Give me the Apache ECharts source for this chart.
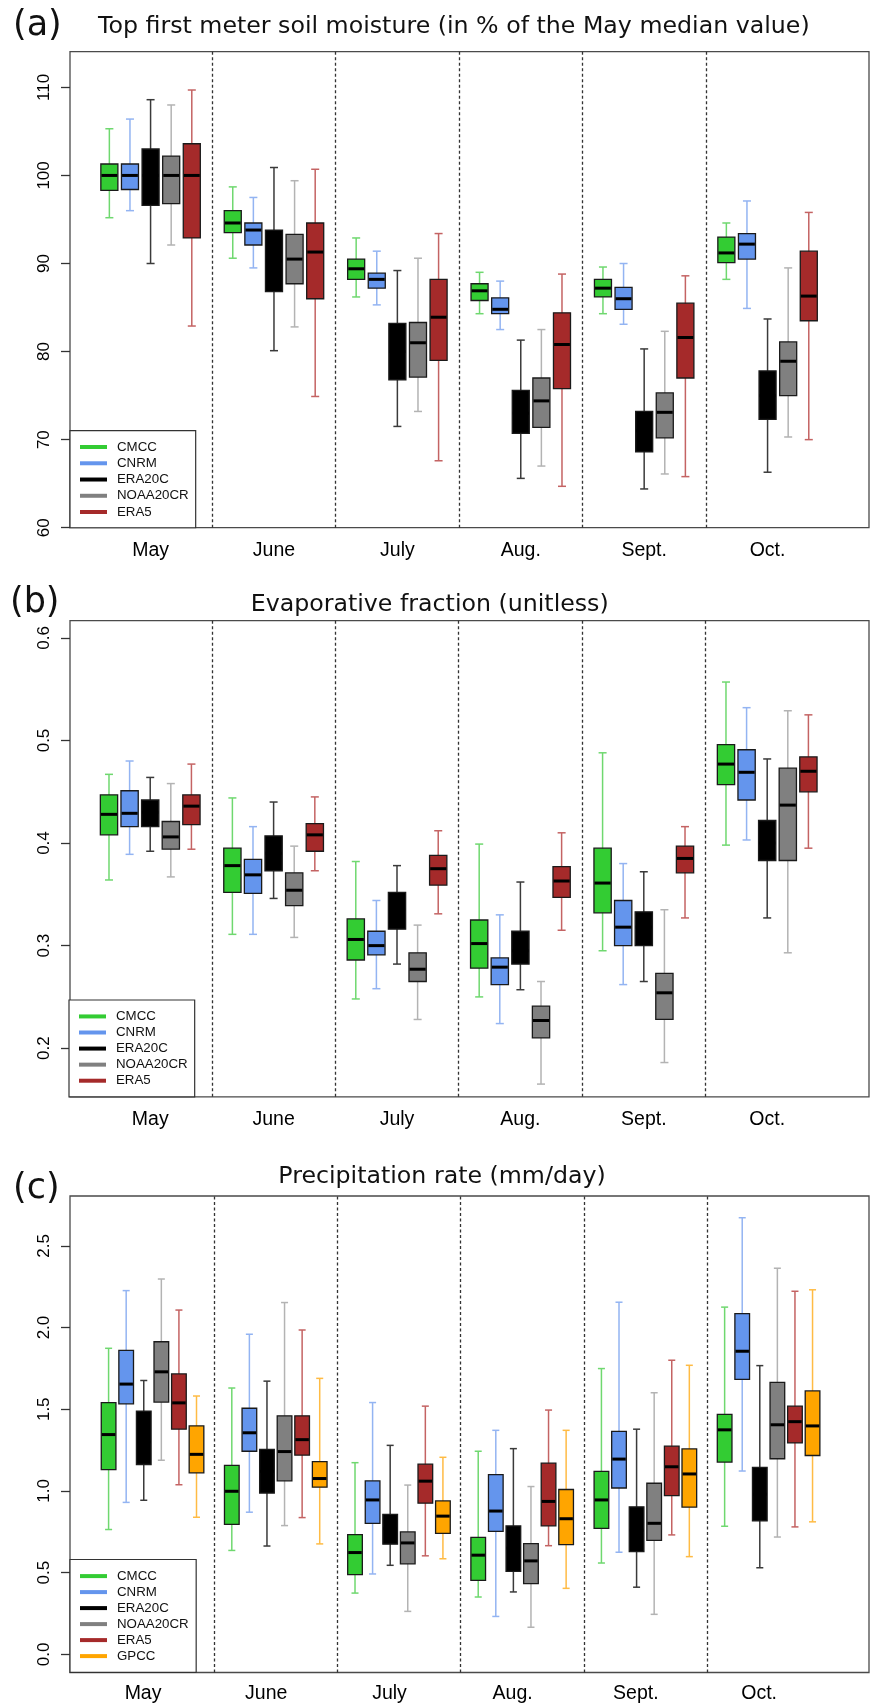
<!DOCTYPE html>
<html><head><meta charset="utf-8">
<script src="https://cdn.jsdelivr.net/npm/echarts@6/dist/echarts.min.js"></script>
<style>html,body{margin:0;padding:0;background:#fff}#c{width:872px;height:1706px}</style>
</head><body><div id="c"></div>
<script>
const months = ['May','June','July','Aug.','Sept.','Oct.'];
const modelsAB = ['CMCC','CNRM','ERA20C','NOAA20CR','ERA5'];
const modelsC = ['CMCC','CNRM','ERA20C','NOAA20CR','ERA5','GPCC'];
const ticksA = [60,70,80,90,100,110];
const ticksB = [0.2,0.3,0.4,0.5,0.6];
const ticksC = [0,0.5,1,1.5,2,2.5];

// each row: [min, Q1, median, Q3, max] for May..Oct
// (a) soil moisture, % of May median
const soilCMCC   = [[95.2,98.3,100,101.3,105.3],[90.6,93.5,94.6,96.0,98.7],[86.2,88.2,89.4,90.5,92.9],[84.3,85.8,86.9,87.7,89.0],[84.3,86.2,87.2,88.2,89.6],[88.2,90.1,91.2,93.0,94.6]];
const soilCNRM   = [[96.0,98.4,100,101.3,106.4],[89.5,92.1,93.8,94.6,97.5],[85.3,87.2,88.2,88.9,91.4],[82.5,84.3,84.8,86.1,88.0],[83.1,84.8,86.0,87.3,90.0],[84.9,90.5,92.2,93.4,97.1]];
const soilERA20C = [[90.0,96.6,100,103.0,108.6],[80.1,86.8,90.3,93.8,100.9],[71.5,76.8,80.0,83.2,89.2],[65.6,70.7,73.0,75.6,81.3],[64.4,68.6,71.0,73.2,80.3],[66.3,72.3,75.0,77.8,83.7]];
const soilNOAA   = [[92.1,96.8,100,102.2,108.0],[82.8,87.7,90.5,93.3,99.4],[73.2,77.1,81.0,83.3,90.6],[67.0,71.4,74.4,77.0,82.5],[66.1,70.2,73.1,75.3,82.3],[70.3,75.0,78.9,81.1,89.5]];
const soilERA5   = [[82.9,92.9,100,103.6,109.7],[74.9,86.0,91.3,94.6,100.7],[67.6,79.0,83.9,88.2,93.4],[64.7,75.8,80.8,84.4,88.8],[65.8,77.0,81.6,85.5,88.6],[70.0,83.5,86.3,91.4,95.8]];
// (b) evaporative fraction
const efCMCC   = [[0.364,0.408,0.428,0.447,0.467],[0.311,0.352,0.378,0.395,0.444],[0.248,0.286,0.306,0.326,0.382],[0.250,0.278,0.302,0.325,0.399],[0.295,0.332,0.361,0.395,0.488],[0.398,0.457,0.477,0.496,0.557]];
const efCNRM   = [[0.389,0.416,0.429,0.451,0.480],[0.311,0.351,0.369,0.384,0.416],[0.258,0.291,0.300,0.314,0.344],[0.224,0.262,0.279,0.288,0.330],[0.262,0.300,0.318,0.344,0.380],[0.403,0.442,0.469,0.491,0.532]];
const efERA20C = [[0.392,0.416,0.430,0.442,0.464],[0.346,0.373,0.390,0.407,0.440],[0.282,0.316,0.335,0.352,0.378],[0.257,0.282,0.295,0.314,0.362],[0.265,0.300,0.318,0.333,0.372],[0.327,0.383,0.400,0.422,0.482]];
const efNOAA   = [[0.367,0.394,0.406,0.421,0.458],[0.308,0.339,0.354,0.371,0.397],[0.228,0.265,0.277,0.293,0.320],[0.165,0.210,0.227,0.241,0.265],[0.186,0.228,0.254,0.273,0.335],[0.293,0.383,0.437,0.473,0.529]];
const efERA5   = [[0.394,0.418,0.436,0.447,0.477],[0.373,0.392,0.408,0.419,0.445],[0.331,0.359,0.375,0.388,0.412],[0.315,0.347,0.363,0.377,0.410],[0.327,0.371,0.385,0.397,0.416],[0.395,0.450,0.470,0.484,0.525]];
// (c) precipitation rate, mm/day
const prCMCC   = [[0.764,1.131,1.345,1.541,1.873],[0.636,0.795,0.998,1.157,1.630],[0.375,0.488,0.623,0.733,1.173],[0.351,0.453,0.607,0.716,1.243],[0.559,0.771,0.945,1.120,1.749],[0.784,1.177,1.374,1.469,2.125]];
const prCNRM   = [[0.930,1.533,1.654,1.860,2.226],[0.870,1.243,1.356,1.506,1.959],[0.492,0.802,0.945,1.062,1.541],[0.232,0.753,0.877,1.100,1.371],[0.625,1.018,1.195,1.365,2.155],[1.122,1.683,1.855,2.085,2.672]];
const prERA20C = [[0.943,1.162,1.300,1.489,1.676],[0.663,0.987,1.120,1.254,1.672],[0.545,0.674,0.770,0.857,1.279],[0.382,0.508,0.650,0.786,1.259],[0.411,0.629,0.760,0.903,1.378],[0.530,0.817,0.980,1.144,1.767]];
const prNOAA   = [[1.188,1.544,1.729,1.913,2.297],[0.788,1.062,1.241,1.460,2.153],[0.263,0.554,0.682,0.749,1.036],[0.166,0.433,0.572,0.678,1.027],[0.245,0.698,0.802,1.047,1.601],[0.718,1.197,1.405,1.665,2.363]];
const prERA5   = [[1.038,1.378,1.539,1.716,2.107],[0.837,1.219,1.314,1.460,1.985],[0.603,0.925,1.060,1.164,1.519],[0.665,0.786,0.936,1.170,1.495],[0.731,0.972,1.148,1.274,1.800],[0.780,1.294,1.424,1.519,2.222]];
const prGPCC   = [[0.839,1.111,1.224,1.398,1.581],[0.676,1.023,1.076,1.179,1.689],[0.585,0.740,0.846,0.939,1.206],[0.404,0.671,0.830,1.009,1.371],[0.598,0.901,1.104,1.257,1.769],[0.811,1.217,1.398,1.612,2.231]];

const titles = ['Top first meter soil moisture (in % of the May median value)','Evaporative fraction (unitless)','Precipitation rate (mm/day)'];
const panelTags = ['(a)','(b)','(c)'];

// ---- styling / layout ----
const fillCol = {CMCC:'#33cc33', CNRM:'#6495ed', ERA20C:'#000000', NOAA20CR:'#808080', ERA5:'#a52a2a', GPCC:'#ffa500'};
const whiskCol = {CMCC:'#6fd86f', CNRM:'#93b4f2', ERA20C:'#3a3a3a', NOAA20CR:'#b3b3b3', ERA5:'#c46363', GPCC:'#ffbb44'};
const AX = 'Liberation Sans, Arial, sans-serif';
const TF = 'DejaVu Sans, sans-serif';

const panels = [
  {data:{CMCC:soilCMCC,CNRM:soilCNRM,ERA20C:soilERA20C,NOAA20CR:soilNOAA,ERA5:soilERA5}, models:modelsAB, ticks:ticksA,
   top:51.7, bottom:527.7, ymin:60, ymax:114.05, xmin:-0.153, xmax:6.322, step:0.167, box:0.138, staple:0.065,
   fmt:v=>String(v), xMargin:12.5, xPad:[0,0,0,0], legTop:430.7, legLH:16.25, legPad:[8.2,7,7.6,10], legLeft:70,
   title:{x:98,y:26.4}, tag:{x:13,y:26}},
  {data:{CMCC:efCMCC,CNRM:efCNRM,ERA20C:efERA20C,NOAA20CR:efNOAA,ERA5:efERA5}, models:modelsAB, ticks:ticksB,
   top:620.7, bottom:1096.8, ymin:0.1526, ymax:0.6168, xmin:-0.15, xmax:6.325, step:0.167, box:0.14, staple:0.065,
   fmt:v=>v.toFixed(1), xMargin:13.2, xPad:[0,0,0,0], legTop:1000, legLH:16.07, legPad:[8.4,7,8.1,10], legLeft:69,
   title:{x:250.7,y:604.4}, tag:{x:10,y:603}},
  {data:{CMCC:prCMCC,CNRM:prCNRM,ERA20C:prERA20C,NOAA20CR:prNOAA,ERA5:prERA5,GPCC:prGPCC}, models:modelsC, ticks:ticksC,
   top:1196, bottom:1672.5, ymin:-0.111, ymax:2.805, xmin:-0.17, xmax:6.315, step:0.1427, box:0.119, staple:0.057,
   fmt:v=>v.toFixed(1), xMargin:11.4, xPad:[0,19,0,0], legTop:1559.5, legLH:16, legPad:[8.6,7.5,8.3,10], legLeft:70,
   title:{x:278.3,y:1177.2}, tag:{x:13,y:1188.7}}
];

function makeRenderer(fill, wcol, P) {
  return function (params, api) {
    const x = api.value(0);
    const pt = k => api.coord([x, api.value(k)]);
    const lo = pt(1), q1 = pt(2), md = pt(3), q3 = pt(4), hi = pt(5);
    const bw = api.size([P.box, 0])[0];
    const sw = api.size([P.staple, 0])[0];
    const cx = lo[0];
    return {type:'group', children:[
      {type:'line', shape:{x1:cx,y1:hi[1],x2:cx,y2:lo[1]}, style:{stroke:wcol, lineWidth:1.5}},
      {type:'line', shape:{x1:cx-sw/2,y1:hi[1],x2:cx+sw/2,y2:hi[1]}, style:{stroke:wcol, lineWidth:1.5}},
      {type:'line', shape:{x1:cx-sw/2,y1:lo[1],x2:cx+sw/2,y2:lo[1]}, style:{stroke:wcol, lineWidth:1.5}},
      {type:'rect', shape:{x:cx-bw/2, y:q3[1], width:bw, height:q1[1]-q3[1]}, style:{fill:fill, stroke:'#1a1a1a', lineWidth:1.3}},
      {type:'line', shape:{x1:cx-bw/2+0.6,y1:md[1],x2:cx+bw/2-0.6,y2:md[1]}, style:{stroke:'#000', lineWidth:3}}
    ]};
  };
}

const grid = [], xAxis = [], yAxis = [], series = [], legend = [], graphic = [];
panels.forEach((P, pi) => {
  grid.push({left:70, right:3, top:P.top, height:P.bottom-P.top, show:true, borderColor:'#4a4a4a', borderWidth:1.3, backgroundColor:'transparent', containLabel:false});
  xAxis.push({type:'value', gridIndex:pi, min:P.xmin, max:P.xmax, position:'bottom',
    axisLine:{show:false, onZero:false}, axisTick:{show:false}, splitLine:{show:false},
    axisLabel:{customValues:months.map((m,i)=>i+0.5), formatter:v=>months[Math.round(v-0.5)],
      fontFamily:AX, fontSize:19.5, color:'#000', margin:P.xMargin, padding:P.xPad}});
  yAxis.push({type:'value', gridIndex:pi, min:P.ymin, max:P.ymax, position:'left',
    axisLine:{show:false, onZero:false}, splitLine:{show:false},
    axisTick:{show:true, customValues:P.ticks, length:9, lineStyle:{color:'#333', width:1.3}},
    axisLabel:{customValues:P.ticks, formatter:P.fmt, rotate:90, margin:17, fontFamily:AX, fontSize:17, color:'#000'}});
  const n = P.models.length;
  P.models.forEach((name, k) => {
    const s = {
      type:'custom', name:name, xAxisIndex:pi, yAxisIndex:pi,
      renderItem: makeRenderer(fillCol[name], whiskCol[name], P),
      data: P.data[name].map((v, i) => [i + 0.5 + (k - (n-1)/2) * P.step].concat(v)),
      encode:{x:0, y:[1,2,3,4,5]},
      itemStyle:{color:fillCol[name]}, clip:false, z:3
    };
    if (k === 0) {
      s.markLine = {silent:true, symbol:'none', label:{show:false}, animation:false,
        lineStyle:{type:[3,2.5], color:'#333', width:1.3},
        data: months.slice(1).map((m,i)=>({xAxis:i+1}))};
    }
    series.push(s);
  });
  legend.push({orient:'vertical', left:P.legLeft, top:P.legTop, padding:P.legPad, itemGap:0,
    itemWidth:27, itemHeight:4, borderColor:'#333', borderWidth:1.2, backgroundColor:'#fff', selectedMode:false,
    textStyle:{fontFamily:AX, fontSize:13.3, color:'#111', lineHeight:P.legLH, padding:[0,0,0,5]},
    data:P.models.map(m=>({name:m, icon:'rect'}))});
  graphic.push({type:'text', x:P.title.x, y:P.title.y, style:{text:titles[pi], font:'23.7px ' + TF, fill:'#111', align:'left', verticalAlign:'middle'}});
  graphic.push({type:'text', x:P.tag.x, y:P.tag.y, style:{text:panelTags[pi], font:'35px ' + TF, fill:'#111', align:'left', verticalAlign:'middle'}});
});

const chart = echarts.init(document.getElementById('c'), null, {renderer:'canvas'});
chart.setOption({animation:false, backgroundColor:'#fff', grid, xAxis, yAxis, series, legend, graphic});
</script></body></html>
